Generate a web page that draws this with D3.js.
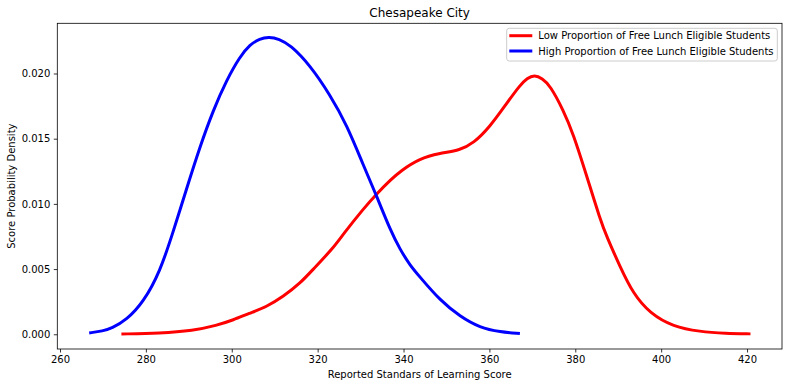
<!DOCTYPE html>
<html><head><meta charset="utf-8">
<script src="https://cdn.jsdelivr.net/npm/d3@7"></script>
<style>body{margin:0;background:#fff}svg{display:block;font-family:"DejaVu Sans",sans-serif}</style>
</head><body><svg id="c" width="789" height="387"></svg>
<script>
const title = "Chesapeake City";
const xLabel = "Reported Standars of Learning Score";
const yLabel = "Score Probability Density";
const seriesNames = ["Low Proportion of Free Lunch Eligible Students","High Proportion of Free Lunch Eligible Students"];
const seriesColors = ["#ff0000","#0000ff"];
const xTicks = [260,280,300,320,340,360,380,400,420];
const yTicks = [0,0.005,0.010,0.015,0.020];

const lowX = [274.3,283.3,291,296.5,300.4,304,308.1,312,315.9,319,323.6,326,330.6,333.8,337.2,339.2,343.8,348.5,353.2,356.3,360.1,364,367.1,368.8,370.5,372.3,374.1,377.2,379.5,382.7,385.8,387.3,390.4,393.5,397.4,402.8,409,415,420.8];
const lowY = [0.00002,0.00008,0.00028,0.00068,0.0011,0.0016,0.0021,0.0029,0.0039,0.0050,0.0066,0.0077,0.0096,0.0108,0.0119,0.0125,0.0135,0.01388,0.01413,0.01465,0.0159,0.0177,0.0191,0.01964,0.0199,0.01962,0.0191,0.0172,0.0154,0.0121,0.0088,0.0075,0.0052,0.0031,0.0016,0.00058,0.0002,0.00007,0.00003];
const highX = [266.8,270,272,275.5,279.4,283.3,286.4,289.7,292.6,295.7,298.8,301.9,304.2,306.5,308.7,311,313.6,318.2,322.9,326.8,330.6,333.8,336.9,339.2,341.5,343.8,348.5,353.2,357.8,362.5,367.1];
const highY = [0.0001,0.00025,0.00045,0.0011,0.00245,0.0048,0.0079,0.0114,0.0144,0.0172,0.0195,0.0213,0.0222,0.02268,0.02282,0.02265,0.0222,0.02065,0.01835,0.01605,0.0130,0.01055,0.0080,0.0065,0.0053,0.0044,0.0026,0.00135,0.0005,0.00018,0.00005];

const svg = d3.select("#c");
const L=57.3, R=782, T=23.3, B=349;
const x = d3.scaleLinear().domain([259.37,428.14]).range([L,R]);
const y = d3.scaleLinear().domain([-0.00113,0.02385]).range([B,T]);

const line = d3.line().x(d=>x(d[0])).y(d=>y(d[1])).curve(d3.curveBasis);
const series = [d3.zip(lowX,lowY), d3.zip(highX,highY)];
const plot = svg.append("g");
plot.append("clipPath").attr("id","clip").append("rect").attr("x",L).attr("y",T).attr("width",R-L).attr("height",B-T);
series.forEach((s,i)=>{
  plot.append("path").datum(s).attr("d",line).attr("fill","none")
    .attr("stroke",seriesColors[i]).attr("stroke-width",3).attr("stroke-linejoin","round").attr("stroke-linecap","butt")
    .attr("clip-path","url(#clip)");
});

const xa = svg.append("g").attr("transform",`translate(0,${B})`)
  .call(d3.axisBottom(x).tickValues(xTicks).tickSize(3.5).tickPadding(3.5).tickFormat(d3.format("d")));
const ya = svg.append("g").attr("transform",`translate(${L},0)`)
  .call(d3.axisLeft(y).tickValues(yTicks).tickSize(3.5).tickPadding(3.5).tickFormat(d3.format(".3f")));
[xa,ya].forEach(a=>{
  a.select(".domain").remove();
  a.selectAll(".tick line").attr("stroke","#000").attr("stroke-width",0.8);
  a.selectAll("text").attr("font-size",10).attr("fill","#000").attr("font-family","DejaVu Sans");
});
svg.append("rect").attr("x",L).attr("y",T).attr("width",R-L).attr("height",B-T)
  .attr("fill","none").attr("stroke","#000").attr("stroke-width",0.8);

svg.append("text").attr("x",(L+R)/2).attr("y",17).attr("text-anchor","middle").attr("font-size",12).text(title);
svg.append("text").attr("x",(L+R)/2).attr("y",378).attr("text-anchor","middle").attr("font-size",10).text(xLabel);
svg.append("text").attr("transform",`translate(15,${(T+B)/2}) rotate(-90)`).attr("text-anchor","middle").attr("font-size",10).text(yLabel);

const lg = svg.append("g");
lg.append("rect").attr("x",506.7).attr("y",28.3).attr("width",270.6).attr("height",32.7).attr("rx",2.5)
  .attr("fill","#fff").attr("fill-opacity",0.8).attr("stroke","#cccccc").attr("stroke-width",1);
seriesNames.forEach((n,i)=>{
  const yy = 35.7 + i*15.3;
  lg.append("line").attr("x1",509.3).attr("x2",532.3).attr("y1",yy).attr("y2",yy).attr("stroke",seriesColors[i]).attr("stroke-width",3);
  lg.append("text").attr("x",538.3).attr("y",yy+3.6).attr("font-size",10).text(n);
});
</script></body></html>
